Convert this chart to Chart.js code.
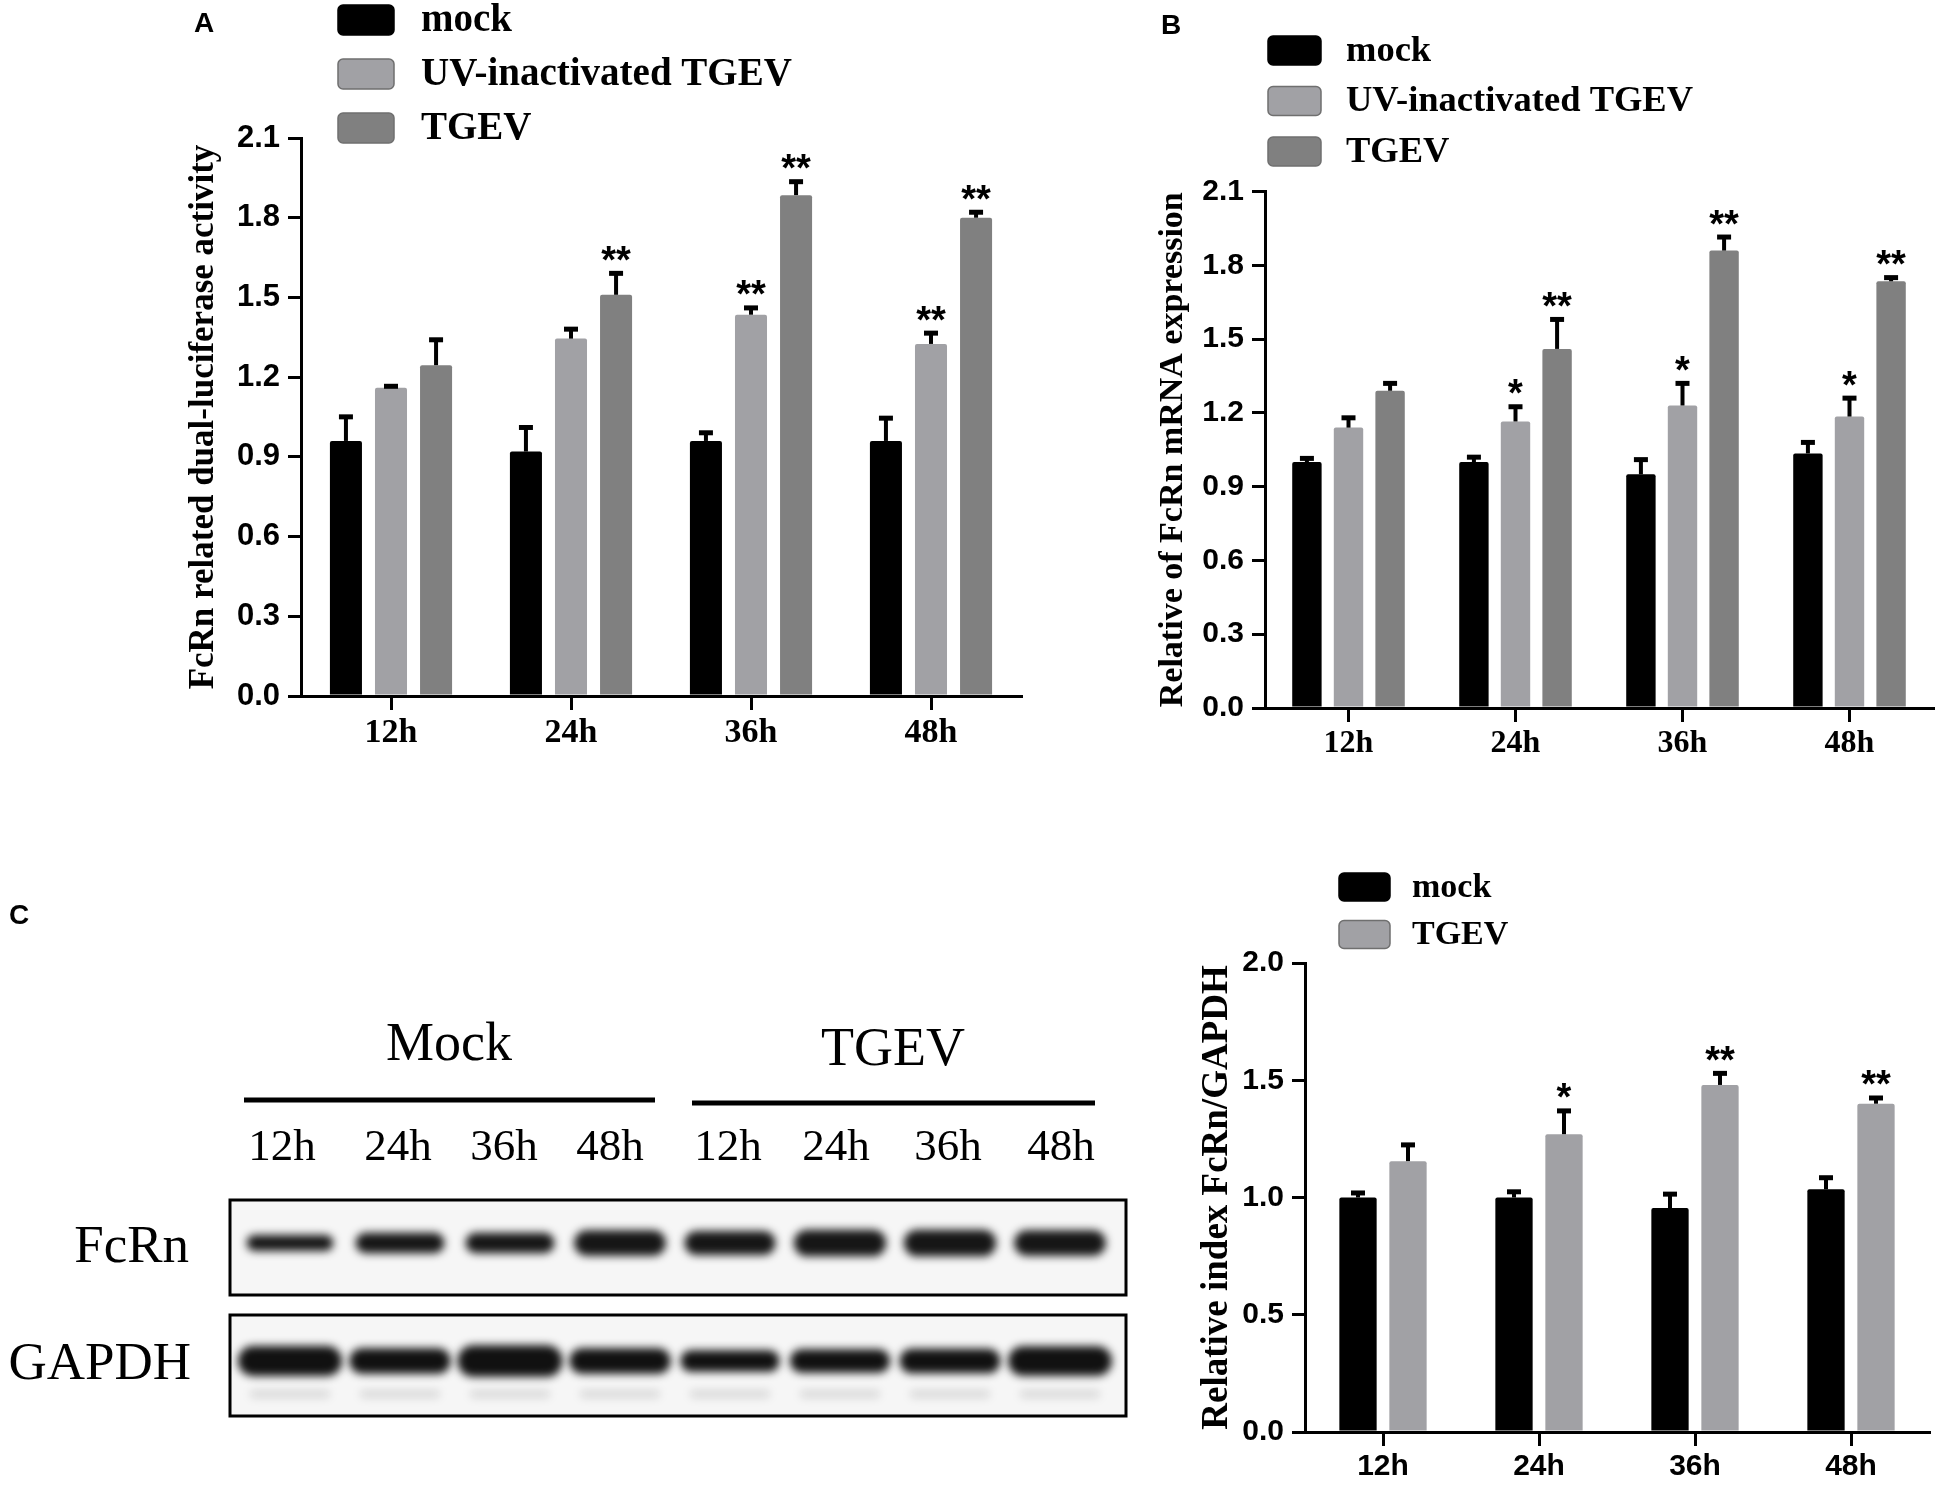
<!DOCTYPE html>
<html>
<head>
<meta charset="utf-8">
<script src="https://cdn.jsdelivr.net/npm/chart.js@4.4.1/dist/chart.umd.min.js"></script>
<style>
  html, body { margin: 0; padding: 0; background: #fff; }
  #page { position: relative; width: 1950px; height: 1485px; overflow: hidden; }
  #page canvas { position: absolute; left: 0; top: 0; }
</style>
</head>
<body>
<div id="page">
  <canvas id="blot" width="1950" height="1485"></canvas>
  <canvas id="chartA" width="1950" height="1485"></canvas>
  <canvas id="chartB" width="1950" height="1485"></canvas>
  <canvas id="chartC" width="1950" height="1485"></canvas>
</div>
<script>
// ---- data ----
const categories = ['12h', '24h', '36h', '48h'];
const ticksAB = [0.0, 0.3, 0.6, 0.9, 1.2, 1.5, 1.8, 2.1];
const ticksC = [0.0, 0.5, 1.0, 1.5, 2.0];

// A: dual-luciferase
const lucMock = [0.96, 0.92, 0.96, 0.96];
const lucMockErr = [0.10, 0.10, 0.04, 0.095];
const lucUV = [1.16, 1.345, 1.435, 1.325];
const lucUVErr = [0.015, 0.045, 0.035, 0.05];
const lucTGEV = [1.245, 1.51, 1.885, 1.80];
const lucTGEVErr = [0.105, 0.09, 0.06, 0.03];
const lucUVStars = ['', '', '**', '**'];
const lucTGEVStars = ['', '**', '**', '**'];

// B: mRNA
const mrnaMock = [1.00, 1.00, 0.95, 1.035];
const mrnaMockErr = [0.025, 0.03, 0.07, 0.055];
const mrnaUV = [1.14, 1.165, 1.23, 1.185];
const mrnaUVErr = [0.05, 0.07, 0.10, 0.085];
const mrnaTGEV = [1.29, 1.46, 1.86, 1.735];
const mrnaTGEVErr = [0.04, 0.13, 0.065, 0.025];
const mrnaUVStars = ['', '*', '*', '*'];
const mrnaTGEVStars = ['', '**', '**', '**'];

// C: western blot quantification
const wbMock = [1.00, 1.00, 0.955, 1.035];
const wbMockErr = [0.03, 0.035, 0.07, 0.06];
const wbTGEV = [1.155, 1.27, 1.48, 1.40];
const wbTGEVErr = [0.08, 0.11, 0.06, 0.035];
const wbTGEVStars = ['', '*', '**', '**'];

// blot band strength (relative), lanes: mock 12-48h, TGEV 12-48h
const blotGroups = ['Mock', 'TGEV'];
const fcrnBand = [0.62, 0.78, 0.78, 0.98, 0.92, 1.02, 1.02, 0.98];
const gapdhBand = [1.0, 0.85, 1.05, 0.85, 0.72, 0.78, 0.82, 0.98];

const BLACK = '#000000';
const LIGHT = '#a1a1a5';
const DARK = '#808080';

// ---- plugins ----
const errorBarPlugin = {
  id: 'errorBars',
  afterDatasetsDraw(chart) {
    const ctx = chart.ctx;
    const yScale = chart.scales.y;
    chart.data.datasets.forEach((ds, i) => {
      const meta = chart.getDatasetMeta(i);
      meta.data.forEach((bar, j) => {
        const top = yScale.getPixelForValue(ds.data[j] + ds.errors[j]);
        ctx.save();
        ctx.strokeStyle = '#000';
        ctx.lineWidth = 4;
        ctx.beginPath();
        ctx.moveTo(bar.x, bar.y);
        ctx.lineTo(bar.x, top + 2);
        ctx.stroke();
        ctx.lineWidth = 5;
        ctx.beginPath();
        ctx.moveTo(bar.x - 7, top + 2.5);
        ctx.lineTo(bar.x + 7, top + 2.5);
        ctx.stroke();
        const s = ds.stars ? ds.stars[j] : '';
        if (s) {
          ctx.font = 'bold 38px "Liberation Sans"';
          ctx.textAlign = 'center';
          ctx.textBaseline = 'alphabetic';
          ctx.fillStyle = '#000';
          const m = ctx.measureText(s);
          ctx.fillText(s, bar.x, top - 10 - m.actualBoundingBoxDescent);
        }
        ctx.restore();
      });
    });
  }
};

const boxLegendPlugin = {
  id: 'boxLegend',
  afterDraw(chart, args, opts) {
    const ctx = chart.ctx;
    chart.data.datasets.forEach((ds, i) => {
      const top = opts.y + i * opts.step;
      ctx.save();
      ctx.fillStyle = ds.backgroundColor;
      ctx.strokeStyle = ds.backgroundColor === BLACK ? '#000' : '#6f6f6f';
      ctx.lineWidth = 1.5;
      ctx.beginPath();
      ctx.roundRect(opts.x, top, opts.w, opts.h, 5);
      ctx.fill();
      ctx.stroke();
      ctx.fillStyle = '#000';
      ctx.font = 'bold ' + opts.size + 'px "Liberation Serif"';
      ctx.textAlign = 'left';
      ctx.textBaseline = 'middle';
      ctx.fillText(ds.label, opts.textX, top + opts.h / 2 + 1);
      ctx.restore();
    });
  }
};

function bars(label, data, errors, color, stars, cat, barP) {
  return {
    label: label,
    data: data,
    errors: errors,
    stars: stars,
    backgroundColor: color,
    borderWidth: 0,
    borderRadius: 2,
    borderSkipped: 'bottom',
    categoryPercentage: cat,
    barPercentage: barP
  };
}

function makeChart(id, cfg) {
  const axisGrid = {
    display: true,
    offset: false,
    drawOnChartArea: false,
    color: '#000',
    lineWidth: 3,
    tickColor: '#000',
    tickWidth: 3
  };
  return new Chart(document.getElementById(id), {
    type: 'bar',
    data: { labels: categories, datasets: cfg.datasets },
    options: {
      responsive: false,
      animation: false,
      devicePixelRatio: 1,
      layout: { padding: cfg.padding },
      plugins: {
        legend: { display: false },
        tooltip: { enabled: false },
        boxLegend: cfg.legend
      },
      scales: {
        x: {
          grid: Object.assign({}, axisGrid, { tickLength: 14 }),
          border: { display: true, color: '#000', width: 3 },
          ticks: { color: '#000', font: cfg.xFont, padding: 3, maxRotation: 0 },
          afterFit: s => { s.height = cfg.xHeight; s.paddingLeft = 0; s.paddingRight = 0; }
        },
        y: {
          min: 0,
          max: cfg.ticks[cfg.ticks.length - 1],
          afterBuildTicks: s => { s.ticks = cfg.ticks.map(v => ({ value: v })); },
          grid: Object.assign({}, axisGrid, { tickLength: 13 }),
          border: { display: true, color: '#000', width: 3 },
          ticks: {
            color: '#000',
            font: { family: 'Liberation Sans', weight: 'bold', size: cfg.yTickSize },
            padding: 8,
            callback: v => Number(v).toFixed(1)
          },
          title: {
            display: true,
            text: cfg.yTitle,
            color: '#000',
            font: { family: 'Liberation Serif', weight: 'bold', size: cfg.yTitleSize },
            padding: { top: cfg.yTitlePad, bottom: 0 }
          },
          afterFit: s => { s.width = cfg.yWidth; s.paddingTop = 0; s.paddingBottom = 0; }
        }
      }
    },
    plugins: [errorBarPlugin, boxLegendPlugin]
  });
}

// ---- panel A ----
makeChart('chartA', {
  datasets: [
    bars('mock', lucMock, lucMockErr, BLACK, null, 0.751, 0.711),
    bars('UV-inactivated TGEV', lucUV, lucUVErr, LIGHT, lucUVStars, 0.751, 0.711),
    bars('TGEV', lucTGEV, lucTGEVErr, DARK, lucTGEVStars, 0.751, 0.711)
  ],
  padding: { left: 0, right: 929, top: 138, bottom: 699 },
  yWidth: 301, xHeight: 90,
  ticks: ticksAB,
  yTickSize: 31,
  yTitle: 'FcRn related dual-luciferase activity', yTitleSize: 35, yTitlePad: 183,
  xFont: { family: 'Liberation Serif', weight: 'bold', size: 34 },
  legend: { x: 338, y: 5, step: 54, w: 56, h: 30, textX: 421, size: 39 }
});

// ---- panel B ----
makeChart('chartB', {
  datasets: [
    bars('mock', mrnaMock, mrnaMockErr, BLACK, null, 0.747, 0.707),
    bars('UV-inactivated TGEV', mrnaUV, mrnaUVErr, LIGHT, mrnaUVStars, 0.747, 0.707),
    bars('TGEV', mrnaTGEV, mrnaTGEVErr, DARK, mrnaTGEVStars, 0.747, 0.707)
  ],
  padding: { left: 1100, right: 17, top: 191.5, bottom: 687 },
  yWidth: 165, xHeight: 90,
  ticks: ticksAB,
  yTickSize: 30,
  yTitle: 'Relative of FcRn mRNA expression', yTitleSize: 34, yTitlePad: 53,
  xFont: { family: 'Liberation Serif', weight: 'bold', size: 32 },
  legend: { x: 1268, y: 36, step: 50.5, w: 53, h: 29, textX: 1346, size: 36.5 }
});

// ---- panel C (chart) ----
makeChart('chartC', {
  datasets: [
    bars('mock', wbMock, wbMockErr, BLACK, null, 0.641, 0.746),
    bars('TGEV', wbTGEV, wbTGEVErr, LIGHT, wbTGEVStars, 0.641, 0.746)
  ],
  padding: { left: 1150, right: 21, top: 963, bottom: 3 },
  yWidth: 155, xHeight: 50,
  ticks: ticksC,
  yTickSize: 30,
  yTitle: 'Relative index FcRn/GAPDH', yTitleSize: 37, yTitlePad: 45,
  xFont: { family: 'Liberation Sans', weight: 'bold', size: 30 },
  legend: { x: 1339, y: 873, step: 47.5, w: 51, h: 28, textX: 1412, size: 34 }
});

// ---- panel letters + western blot image ----
(function drawBlot() {
  const ctx = document.getElementById('blot').getContext('2d');
  ctx.fillStyle = '#fff';
  ctx.fillRect(0, 0, 1950, 1485);

  ctx.fillStyle = '#000';
  ctx.font = 'bold 28px "Liberation Sans"';
  ctx.textAlign = 'left';
  ctx.textBaseline = 'alphabetic';
  ctx.fillText('A', 194, 32);
  ctx.fillText('B', 1161, 34);
  ctx.fillText('C', 9, 924);

  const laneX = i => 290 + i * 110;

  // group headers and lines
  ctx.font = '54px "Liberation Serif"';
  ctx.textAlign = 'center';
  ctx.fillText(blotGroups[0], 449, 1060);
  ctx.fillText(blotGroups[1], 893, 1065);
  ctx.fillRect(244, 1097.5, 411, 5);
  ctx.fillRect(692, 1100.5, 403, 5);

  ctx.font = '45px "Liberation Serif"';
  const labelX = [282, 398, 504, 610, 728, 836, 948, 1061];
  for (let i = 0; i < 8; i++) ctx.fillText(categories[i % 4], labelX[i], 1160);

  ctx.font = '53px "Liberation Serif"';
  ctx.textAlign = 'right';
  ctx.fillText('FcRn', 189, 1262);
  ctx.fillText('GAPDH', 191, 1379);

  function membrane(top, h) {
    ctx.fillStyle = '#f6f6f6';
    ctx.fillRect(230, top, 896, h);
  }
  function band(cx, cy, w, h, a) {
    ctx.save();
    ctx.filter = 'blur(4px)';
    ctx.fillStyle = 'rgba(12,12,12,' + a + ')';
    ctx.beginPath();
    ctx.roundRect(cx - w / 2, cy - h / 2, w, h, h / 2);
    ctx.fill();
    ctx.restore();
  }
  membrane(1200, 95);
  membrane(1315, 101);
  for (let i = 0; i < 8; i++) {
    const f = fcrnBand[i];
    band(laneX(i), 1243, 78 + 14 * f, 26 * f, 0.96);
    const g = gapdhBand[i];
    band(laneX(i), 1394, 80, 8, 0.12);
    band(laneX(i), 1361, 86 + 18 * g, 30 * g, 0.98);
  }
  ctx.strokeStyle = '#000';
  ctx.lineWidth = 3;
  ctx.strokeRect(230, 1200, 896, 95);
  ctx.strokeRect(230, 1315, 896, 101);
})();
</script>
</body>
</html>
